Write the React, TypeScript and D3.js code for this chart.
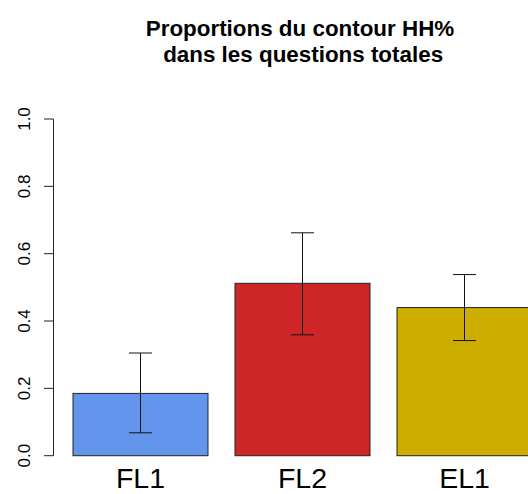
import React from "react";
import * as d3 from "d3";

const categories = ["FL1", "FL2", "EL1"];
const values = [0.185, 0.512, 0.44];
const lower = [0.068, 0.359, 0.342];
const upper = [0.305, 0.662, 0.538];
const colors = ["#6495ED", "#CD2626", "#CDAD00"];
const yTicks = [0, 0.2, 0.4, 0.6, 0.8, 1.0];
const titleLines = ["Proportions du contour HH%", " dans les questions totales"];

export default function App() {
  const W = 528, H = 494;
  const y = d3.scaleLinear().domain([0, 1]).range([455.7, 119]);
  // R barplot: width 1, space 0.2 in user units
  const x = d3.scaleLinear().domain([0, 1]).range([46, 181]);
  const barW = x(1) - x(0);
  const bars = categories.map((c, i) => {
    const left = x(0.2 + i * 1.2);
    return { c, i, left, cx: left + barW / 2 };
  });
  return (
    <svg width={W} height={H} style={{ position: "absolute", left: 0, top: 0 }}
      fontFamily="Liberation Sans, Arial, sans-serif">
      <rect width={W} height={H} fill="white" />
      {titleLines.map((t, i) => (
        <text key={i} x={300} y={36 + i * 26} textAnchor="middle" fontWeight="bold" fontSize={22.4}
          style={{ whiteSpace: "pre" }}>{t}</text>
      ))}
      {bars.map(b => (
        <rect key={b.c} x={b.left} y={y(values[b.i])} width={barW} height={y(0) - y(values[b.i])}
          fill={colors[b.i]} stroke="#222" strokeWidth={1} />
      ))}
      {bars.map(b => (
        <g key={"e" + b.c} stroke="#111" strokeWidth={1}>
          <line x1={b.cx} x2={b.cx} y1={y(lower[b.i])} y2={y(upper[b.i])} />
          <line x1={b.cx - 11.5} x2={b.cx + 11.5} y1={y(lower[b.i])} y2={y(lower[b.i])} />
          <line x1={b.cx - 11.5} x2={b.cx + 11.5} y1={y(upper[b.i])} y2={y(upper[b.i])} />
        </g>
      ))}
      {bars.map(b => (
        <text key={"l" + b.c} x={b.cx} y={488} textAnchor="middle" fontSize={28.5}>{b.c}</text>
      ))}
      <g stroke="#222" strokeWidth={1}>
        <line x1={53.5} x2={53.5} y1={y(0)} y2={y(1)} />
        {yTicks.map(t => (
          <line key={t} x1={44} x2={53.5} y1={y(t)} y2={y(t)} />
        ))}
      </g>
      {yTicks.map(t => (
        <text key={"t" + t} transform={`translate(30,${y(t)}) rotate(-90)`} textAnchor="middle"
          fontSize={17}>{t.toFixed(1)}</text>
      ))}
    </svg>
  );
}
